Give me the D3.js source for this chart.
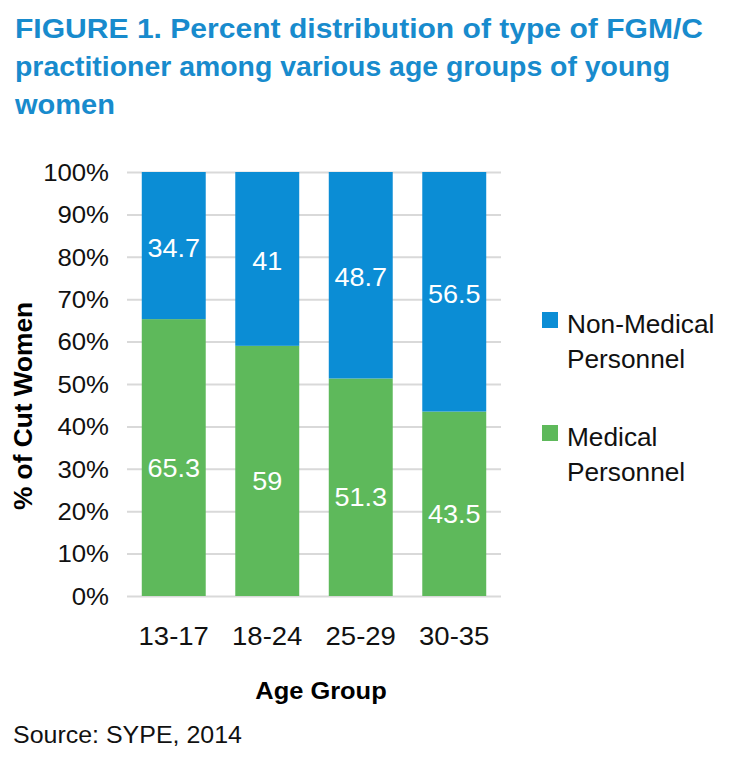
<!DOCTYPE html>
<html><head><meta charset="utf-8">
<script src="https://cdn.jsdelivr.net/npm/d3@7"></script>
<style>body{margin:0;background:#fff}svg{display:block}</style>
</head><body><svg id="c" width="742" height="770"></svg>
<script>
const categories = ["13-17", "18-24", "25-29", "30-35"];
const medical = [65.3, 59, 51.3, 43.5];
const nonMedical = [34.7, 41, 48.7, 56.5];
const seriesKeys = ["medical", "nonMedical"];
const seriesNames = {nonMedical: ["Non-Medical", "Personnel"], medical: ["Medical", "Personnel"]};
const legendOrder = ["nonMedical", "medical"];
const yTicks = [0, 10, 20, 30, 40, 50, 60, 70, 80, 90, 100];
const titleLines = ["FIGURE 1. Percent distribution of type of FGM/C", "practitioner among various age groups of young", "women"];
const yLabel = "% of Cut Women";
const xLabel = "Age Group";
const sourceText = "Source: SYPE, 2014";

const colors = {nonMedical: "#0b8dd5", medical: "#5eb95b"};
const svg = d3.select("#c");
const FONT = "'Liberation Sans', Arial, sans-serif";

function stretch(sel, k) {
  sel.each(function () {
    const w = this.getComputedTextLength();
    this.setAttribute("textLength", w * k);
    this.setAttribute("lengthAdjust", "spacingAndGlyphs");
  });
}

// Title
const titleWidths = [688, 655, 100];
const title = svg.append("g").attr("fill", "#188bcd")
  .style("font-family", "'Liberation Sans Narrow', 'Liberation Sans', Arial, sans-serif")
  .style("font-weight", "bold").style("font-size", "28px");
title.selectAll("text").data(titleLines).join("text")
  .attr("x", 15).attr("y", (d, i) => 38 + i * 38).text(d => d)
  .attr("textLength", (d, i) => titleWidths[i]).attr("lengthAdjust", "spacingAndGlyphs");

// Scales
const x = d3.scaleBand().domain(categories).range([127, 501]).paddingInner(0.316).paddingOuter(0.158);
const y = d3.scaleLinear().domain([0, 100]).range([596, 172]);

// Y axis with gridlines
const yAxis = svg.append("g").attr("transform", "translate(127,0)")
  .call(d3.axisLeft(y).tickValues(yTicks).tickSize(-(501 - 127)).tickPadding(18).tickFormat(d => d + "%"));
yAxis.select(".domain").remove();
yAxis.selectAll(".tick line").attr("stroke", "#d9d9d9").attr("stroke-width", 2);
yAxis.selectAll(".tick text").attr("fill", "#111").style("font-family", FONT).style("font-size", "23px")
  .attr("dy", "0.36em");
stretch(yAxis.selectAll(".tick text"), 1.12);

// Data & stack
const rows = categories.map((c, i) => ({cat: c, medical: medical[i], nonMedical: nonMedical[i]}));
const stacked = d3.stack().keys(seriesKeys)(rows);

const layers = svg.append("g").selectAll("g").data(stacked).join("g")
  .attr("fill", d => colors[d.key]);
layers.selectAll("rect").data(d => d).join("rect")
  .attr("x", d => x(d.data.cat)).attr("width", x.bandwidth())
  .attr("y", d => y(d[1])).attr("height", d => y(d[0]) - y(d[1]));

// Value labels
const labelOffset = {medical: 19, nonMedical: 11};
const lab = svg.append("g").attr("fill", "#fff").attr("text-anchor", "middle")
  .style("font-family", FONT).style("font-size", "25px");
stacked.forEach(layer => {
  lab.selectAll(null).data(layer).join("text")
    .attr("x", d => x(d.data.cat) + x.bandwidth() / 2)
    .attr("y", d => y((d[0] + d[1]) / 2) + labelOffset[layer.key])
    .text(d => d.data[layer.key]);
});
stretch(lab.selectAll("text"), 1.08);

// X axis
const xAxis = svg.append("g").attr("transform", "translate(0,596)")
  .call(d3.axisBottom(x).tickSize(0).tickSizeOuter(0));
xAxis.select(".domain").remove();
xAxis.selectAll(".tick text").attr("fill", "#111").attr("dy", null).attr("y", 49)
  .style("font-family", FONT).style("font-size", "25px");
stretch(xAxis.selectAll(".tick text"), 1.1);

// Axis titles
const xt = svg.append("text").attr("x", 321).attr("y", 699).attr("text-anchor", "middle")
  .attr("fill", "#000").style("font-family", FONT).style("font-weight", "bold").style("font-size", "24px")
  .text(xLabel);
stretch(xt, 1.06);
const yt = svg.append("text").attr("transform", "translate(32,406) rotate(-90)").attr("text-anchor", "middle")
  .attr("fill", "#000").style("font-family", FONT).style("font-weight", "bold").style("font-size", "25px")
  .text(yLabel);
stretch(yt, 1.05);

// Legend
const leg = svg.append("g").style("font-family", FONT).style("font-size", "25px");
legendOrder.forEach((k, i) => {
  const g = leg.append("g").attr("transform", `translate(542,${312 + i * 113})`);
  g.append("rect").attr("width", 16).attr("height", 16).attr("fill", colors[k]);
  const t = g.selectAll("text").data(seriesNames[k]).join("text")
    .attr("x", 25).attr("y", (d, j) => 21 + j * 35).attr("fill", "#111").text(d => d);
  stretch(t, 1.05);
});

// Source
const src = svg.append("text").attr("x", 13).attr("y", 743).attr("fill", "#111")
  .style("font-family", FONT).style("font-size", "24px").text(sourceText);
stretch(src, 1.04);
</script></body></html>
